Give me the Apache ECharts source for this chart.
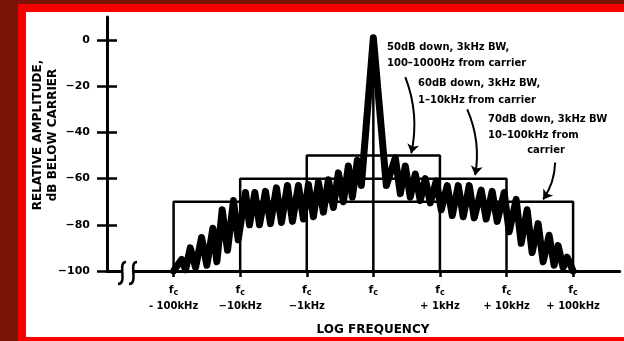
<!DOCTYPE html>
<html>
<head>
<meta charset="utf-8">
<script src="https://cdn.jsdelivr.net/npm/echarts@6/dist/echarts.min.js"></script>
<style>
html, body { margin: 0; padding: 0; background: #7a1406; }
#frame { position: absolute; left: 18px; top: 4px; width: 606px; height: 337px; background: #f80000; }
#paper { position: absolute; left: 26px; top: 12px; width: 598px; height: 325px; background: #fff; }
#container { position: absolute; left: 0; top: 0; width: 624px; height: 341px; }
</style>
</head>
<body>
<div id="frame"></div>
<div id="paper"></div>
<div id="container"></div>
<script>
var FONT = 'DejaVu Sans';

var yTicks = [-100, -80, -60, -40, -20, 0];
var xTicks = [-3, -2, -1, 0, 1, 2, 3];
var xTickOffsets = ['- 100kHz', '\u221210kHz', '\u22121kHz', '', '+ 1kHz', '+ 10kHz', '+ 100kHz'];

// spectrum band, zigzag of peaks and troughs: [decades from carrier, dB]
var spectrum = [
    [-3.0, -100], [-2.88, -95], [-2.82, -99.5],
    [-2.75, -90], [-2.67, -98.5], [-2.58, -85.5], [-2.50, -97.5],
    [-2.41, -81.5], [-2.35, -96], [-2.27, -73.5], [-2.19, -91],
    [-2.10, -69.5], [-2.03, -86.5], [-1.92, -66],
    [-1.86, -80], [-1.78, -66], [-1.71, -80], [-1.62, -65.5],
    [-1.545, -79.5], [-1.455, -64], [-1.38, -79], [-1.29, -63],
    [-1.215, -78.5], [-1.125, -63], [-1.05, -77.5], [-0.975, -62.5],
    [-0.90, -76.5], [-0.825, -61.5], [-0.75, -74.5], [-0.675, -60.5],
    [-0.60, -72.5], [-0.525, -57.5], [-0.45, -70], [-0.375, -54.5],
    [-0.315, -68], [-0.24, -52], [-0.18, -63],
    [0, 1],
    [0.195, -63], [0.33, -51], [0.405, -66.5], [0.48, -54.5],
    [0.555, -68], [0.63, -58], [0.705, -69.5], [0.78, -60],
    [0.855, -70.5], [0.945, -61], [1.02, -73.5], [1.11, -63],
    [1.185, -76], [1.275, -63], [1.35, -76.5], [1.44, -63],
    [1.515, -77], [1.62, -65], [1.695, -77.5], [1.785, -65.5],
    [1.86, -78.5], [1.965, -66], [2.04, -83], [2.145, -69],
    [2.22, -88], [2.31, -73.5], [2.385, -92], [2.475, -79.5],
    [2.55, -96], [2.64, -84.5], [2.715, -97.5], [2.775, -89],
    [2.85, -98.5], [2.91, -94], [3.0, -100]
];

// limit masks: [from, to, level dB]
var masks = [[-3, 3, -70], [-2, 2, -60], [-1, 1, -50]];
var floorDb = -100;
var carrierLine = [[0, -100], [0, 0]];

var noteLines = [
    '50dB down, 3kHz BW,', '100\u20131000Hz from carrier',
    '60dB down, 3kHz BW,', '1\u201310kHz from carrier',
    '70dB down, 3kHz BW', '10\u2013100kHz from', 'carrier'
];
// arrows from the notes down to the masks
var arrows = [
    [[0.48, -16], [0.57, -49]],
    [[1.41, -30], [1.53, -58.5]],
    [[2.73, -53], [2.55, -69]]
];

var chart = echarts.init(document.getElementById('container'));

var series = [];
masks.forEach(function (m) {
    series.push({
        type: 'line',
        data: [[m[0], floorDb], [m[0], m[2]], [m[1], m[2]], [m[1], floorDb]],
        showSymbol: false,
        lineStyle: { color: '#000', width: 2.5 },
        z: 3
    });
});
series.push({
    type: 'line',
    data: carrierLine,
    showSymbol: false,
    lineStyle: { color: '#000', width: 2.5 },
    z: 3
});
series.push({
    type: 'line',
    data: spectrum,
    showSymbol: false,
    lineStyle: { color: '#000', width: 7, join: 'round', cap: 'round' },
    z: 4
});
series.push({
    type: 'lines',
    coordinateSystem: 'cartesian2d',
    symbol: ['none', 'arrow'],
    symbolSize: 9,
    lineStyle: { color: '#000', width: 2, curveness: 0.15, opacity: 1 },
    data: arrows.map(function (a) { return { coords: a }; }),
    z: 5
});

var noteStyle = { fill: '#000', fontFamily: FONT, fontWeight: 'bold', fontSize: 10, verticalAlign: 'middle' };
function note(text, x, y, align) {
    return { type: 'text', x: x, y: y, z: 100,
        style: Object.assign({ text: text, align: align || 'left' }, noteStyle) };
}

var option = {
    animation: false,
    grid: { left: 107, right: 4.3, top: 17, bottom: 70 },
    xAxis: {
        type: 'value',
        min: -4,
        max: 3.7,
        splitLine: { show: false },
        axisLine: { onZero: false, lineStyle: { color: '#000', width: 3 } },
        axisTick: { customValues: xTicks, length: 6, lineStyle: { color: '#000', width: 2.5 } },
        axisLabel: {
            customValues: xTicks,
            margin: 11,
            color: '#000',
            formatter: function (v) {
                var s = xTickOffsets[xTicks.indexOf(v)];
                return '{f|f}{c|c}' + (s ? '\n{o|' + s + '}' : '');
            },
            rich: {
                f: { fontFamily: FONT, fontWeight: 'bold', fontSize: 11, lineHeight: 16 },
                c: { fontFamily: FONT, fontWeight: 'bold', fontSize: 8, lineHeight: 16, padding: [5, 0, 0, 0] },
                o: { fontFamily: FONT, fontWeight: 'bold', fontSize: 10, lineHeight: 16 }
            }
        }
    },
    yAxis: [{
        type: 'value',
        position: 'left',
        min: -100,
        max: 10,
        splitLine: { show: false },
        axisLine: { onZero: false, lineStyle: { color: '#000', width: 3 } },
        axisTick: { customValues: yTicks, length: 10, lineStyle: { color: '#000', width: 2.5 } },
        axisLabel: {
            customValues: yTicks,
            margin: 17,
            color: '#000',
            fontFamily: FONT,
            fontWeight: 'bold',
            fontSize: 11,
            formatter: function (v) { return v === 0 ? '0' : '\u2212' + Math.abs(v); }
        }
    }, {
        type: 'value',
        position: 'left',
        offset: 0,
        min: -100,
        max: 10,
        splitLine: { show: false },
        axisLine: { show: false, onZero: false },
        axisTick: { inside: true, customValues: yTicks, length: 10, lineStyle: { color: '#000', width: 2.5 } },
        axisLabel: { show: false }
    }],
    graphic: [
        // axis break
        { type: 'rect', z: 100, shape: { x: 121, y: 265, width: 13, height: 12 }, style: { fill: '#fff' } },
        { type: 'bezierCurve', z: 101, shape: { x1: 126, y1: 262, cpx1: 117, cpy1: 262, cpx2: 128, cpy2: 284, x2: 118, y2: 284 },
            style: { stroke: '#000', lineWidth: 2.5, fill: null } },
        { type: 'bezierCurve', z: 101, shape: { x1: 137, y1: 262, cpx1: 128, cpy1: 262, cpx2: 139, cpy2: 284, x2: 129, y2: 284 },
            style: { stroke: '#000', lineWidth: 2.5, fill: null } },
        {
            type: 'text', x: 45, y: 135, rotation: Math.PI / 2, z: 100,
            style: { text: 'RELATIVE AMPLITUDE,\ndB BELOW CARRIER', fill: '#000', fontFamily: FONT,
                fontWeight: 'bold', fontSize: 12, lineHeight: 15, align: 'center', verticalAlign: 'middle' }
        },
        {
            type: 'text', x: 373, y: 330, z: 100,
            style: { text: 'LOG FREQUENCY', fill: '#000', fontFamily: FONT, fontWeight: 'bold',
                fontSize: 12, align: 'center', verticalAlign: 'middle' }
        },
        note(noteLines[0], 387, 47),
        note(noteLines[1], 387, 63),
        note(noteLines[2], 418, 83),
        note(noteLines[3], 418, 100),
        note(noteLines[4], 488, 119),
        note(noteLines[5], 488, 135),
        note(noteLines[6], 546, 150, 'center')
    ],
    series: series
};

chart.setOption(option);
</script>
</body>
</html>
